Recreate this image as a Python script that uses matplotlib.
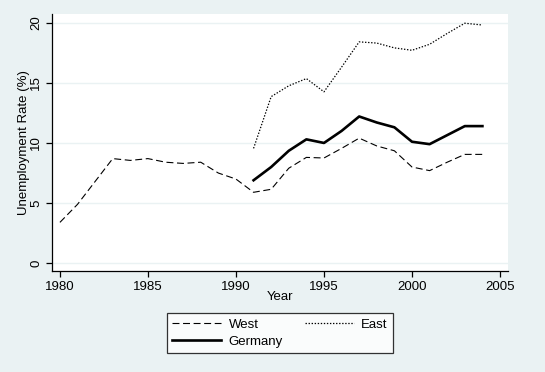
import matplotlib.pyplot as plt
import numpy as np

plt.rcParams['font.family'] = ['Liberation Sans', 'DejaVu Sans']
plt.rcParams['lines.scale_dashes'] = False

bg = '#eaf2f3'

years_w = list(range(1980, 2005))
west = [3.4, 4.9, 6.8, 8.7, 8.55, 8.7, 8.4, 8.3, 8.4, 7.5, 7.0, 5.9, 6.15,
        7.9, 8.8, 8.75, 9.55, 10.4, 9.75, 9.35, 8.0, 7.7, 8.4, 9.05, 9.05]

years_e = list(range(1991, 2005))
east = [9.55, 13.85, 14.75, 15.35, 14.25, 16.3, 18.4, 18.3, 17.9, 17.7,
        18.2, 19.1, 19.95, 19.8]
germany = [6.9, 8.0, 9.35, 10.3, 10.0, 11.0, 12.2, 11.7, 11.3, 10.1,
           9.9, 10.65, 11.4, 11.4]

yticks = [0, 5, 10, 15, 20]
xticks = [1980, 1985, 1990, 1995, 2000, 2005]

fs = 9.5

fig = plt.figure(figsize=(5.45, 3.72), dpi=100, facecolor=bg)
ax = fig.add_axes([0.0954, 0.2715, 0.8366, 0.691])
ax.set_facecolor('white')

lw_line, = ax.plot(years_w, west, color='black', lw=0.8, ls=(0, (5, 2.6)), label='West')
le_line, = ax.plot(years_e, east, color='black', lw=0.9, ls=(0, (1, 1.2)), label='East')
lg_line, = ax.plot(years_e, germany, color='black', lw=1.9, label='Germany')

ax.set_xlim(1979.55, 2005.45)
ax.set_ylim(-0.64, 20.72)
ax.set_yticks(yticks)
ax.set_xticks(xticks)
ax.yaxis.grid(True, color=bg, lw=1.0)
ax.set_axisbelow(True)

for s in ['top', 'right']:
    ax.spines[s].set_visible(False)
for s in ['left', 'bottom']:
    ax.spines[s].set_linewidth(0.9)

ax.tick_params(direction='out', length=4, width=0.9, labelsize=fs, pad=3)
plt.setp(ax.get_yticklabels(), rotation=90, va='center')

ax.set_ylabel('Unemployment Rate (%)', fontsize=fs, labelpad=0)
ax.set_xlabel('Year', fontsize=fs, labelpad=-1)

leg = fig.legend([lw_line, lg_line, le_line], ['West', 'Germany', 'East'],
                 ncol=2, loc='center', bbox_to_anchor=(0.514, 0.104),
                 frameon=True, fancybox=False, edgecolor='black',
                 fontsize=fs, handlelength=3.7, columnspacing=1.7,
                 labelspacing=0.35, borderpad=0.4, handletextpad=0.55,
                 borderaxespad=0)
leg.get_frame().set_linewidth(0.9)

fig.savefig('out.png', dpi=100, facecolor=bg)
